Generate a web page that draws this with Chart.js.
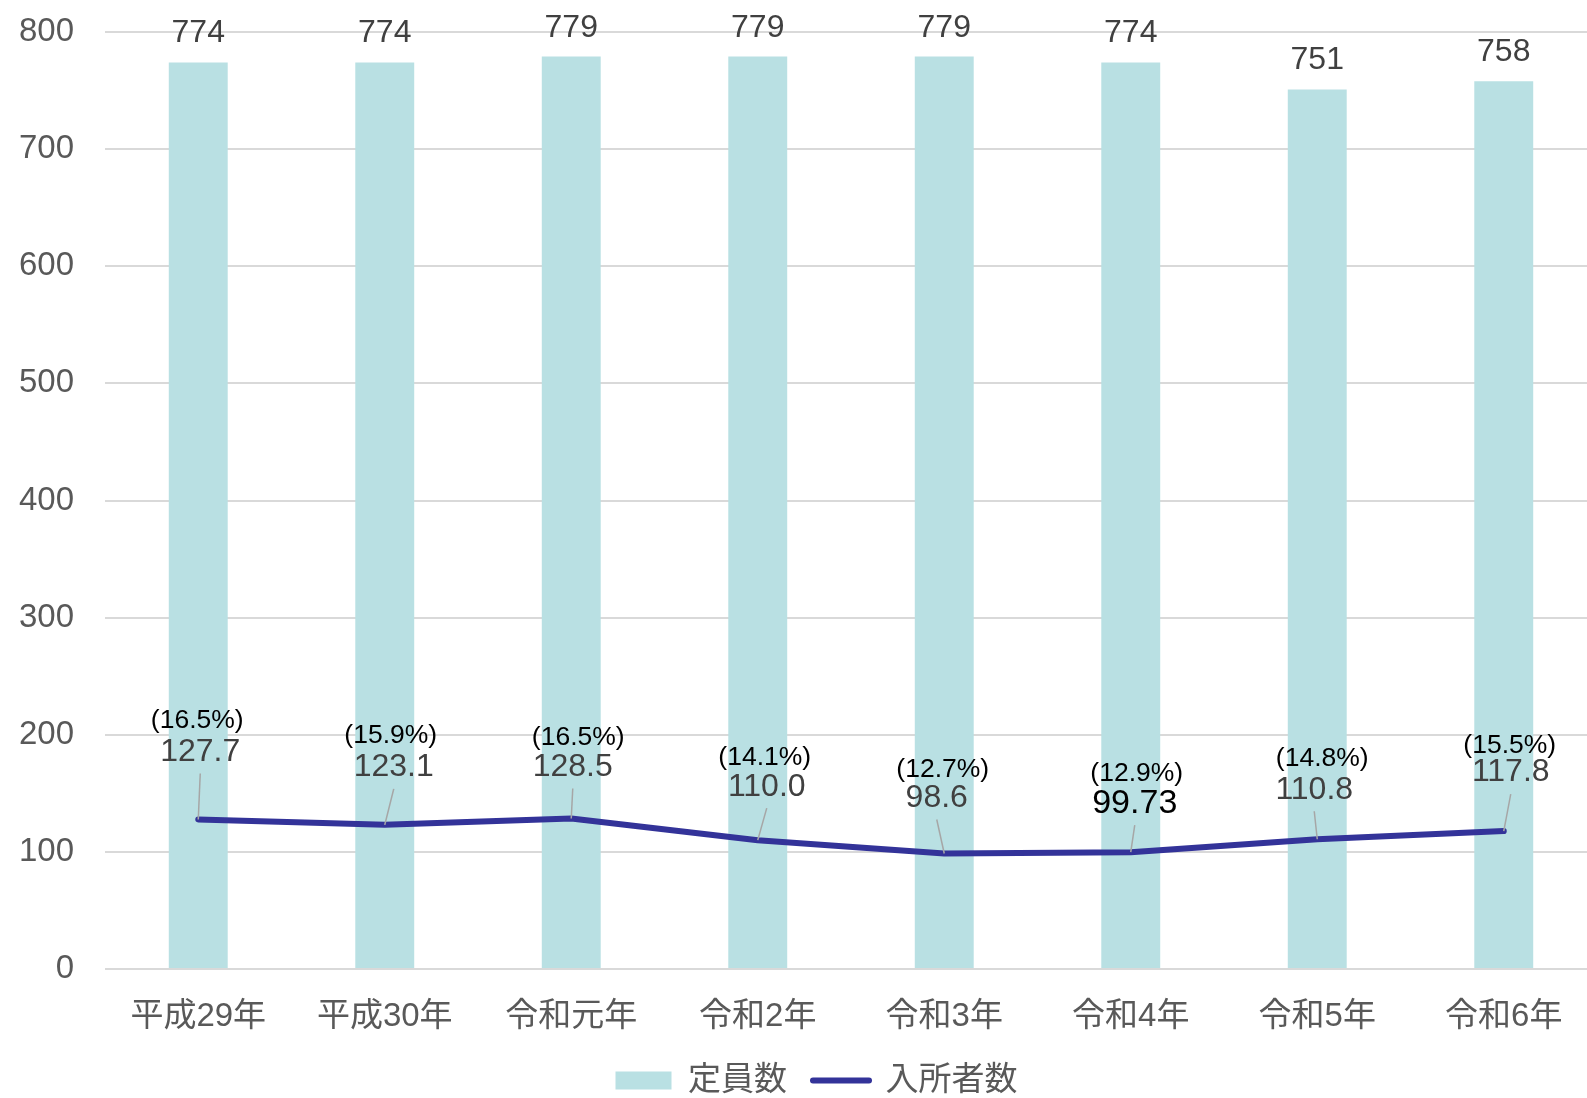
<!DOCTYPE html>
<html lang="ja">
<head>
<meta charset="utf-8">
<title>定員数と入所者数</title>
<script src="https://cdn.jsdelivr.net/npm/chart.js@4/dist/chart.umd.min.js"></script>
<style>
  html, body { margin: 0; padding: 0; background: #fff; overflow: hidden; }
  #wrap { width: 1597px; height: 1107px; }
</style>
</head>
<body>
<div id="wrap"><canvas id="chart" width="1597" height="1107"></canvas></div>
<script>
// chart values
const years = ["平成29年", "平成30年", "令和元年", "令和2年", "令和3年", "令和4年", "令和5年", "令和6年"];
const capacity = [774, 774, 779, 779, 779, 774, 751, 758];
const admitted = [127.7, 123.1, 128.5, 110.0, 98.6, 99.73, 110.8, 117.8];
const admittedText = ["127.7", "123.1", "128.5", "110.0", "98.6", "99.73", "110.8", "117.8"];
const shareText = ["(16.5%)", "(15.9%)", "(16.5%)", "(14.1%)", "(12.7%)", "(12.9%)", "(14.8%)", "(15.5%)"];
const yMin = 0, yMax = 800, yStep = 100;

// styling
const FONT = '"Liberation Sans", "Noto Sans CJK JP", Arial, sans-serif';
const barColor = "#b9e0e3";
const lineColor = "#333399";
const gridColor = "#d9d9d9";
const axisText = "#595959";

// label nudges relative to each line point (px), like the hand-moved labels in the original
const numOffset = [[2, -70], [9, -60], [1.5, -54], [9, -56], [-7.5, -58], [4, -51], [-3, -52], [7, -61]];
const pctOffset = [[-1, -101], [6, -91], [7, -83], [7, -85], [-1.5, -86], [6, -81], [5, -83], [6, -88]];

const labelPlugin = {
  id: "labels",
  afterLayout(chart) {
    // legend in the original sits a bit right of the canvas centre
    if (chart.legend) chart.legend.left += 36;
  },
  afterDatasetsDraw(chart) {
    const ctx = chart.ctx;
    ctx.save();
    ctx.textAlign = "center";
    ctx.textBaseline = "alphabetic";

    // bar value labels
    const bars = chart.getDatasetMeta(0).data;
    ctx.font = "32px " + FONT;
    ctx.fillStyle = "#404040";
    bars.forEach((b, i) => {
      ctx.fillText(String(capacity[i]), b.x, b.y - 20);
    });

    // line labels with leader lines
    const pts = chart.getDatasetMeta(1).data;
    pts.forEach((p, i) => {
      const nx = p.x + numOffset[i][0], ny = p.y + numOffset[i][1];
      const px = p.x + pctOffset[i][0], py = p.y + pctOffset[i][1];

      ctx.strokeStyle = "#a6a6a6";
      ctx.lineWidth = 1.5;
      ctx.beginPath();
      ctx.moveTo(nx, ny + 24);
      ctx.lineTo(p.x, p.y);
      ctx.stroke();

      const big = i === 5;
      const fs = big ? 34 : 32;
      ctx.font = fs + "px " + FONT;
      ctx.fillStyle = big ? "#000000" : "#404040";
      ctx.fillText(admittedText[i], nx, ny + fs * 0.358);

      ctx.font = "26.5px " + FONT;
      ctx.fillStyle = "#000000";
      ctx.fillText(shareText[i], px, py + 26.5 * 0.358);
    });
    ctx.restore();
  }
};

const ctx = document.getElementById("chart").getContext("2d");
new Chart(ctx, {
  data: {
    labels: years,
    datasets: [
      {
        type: "bar",
        label: "定員数",
        data: capacity,
        backgroundColor: barColor,
        borderWidth: 0,
        barPercentage: 0.316,
        categoryPercentage: 1.0,
        order: 1
      },
      {
        type: "line",
        label: "入所者数",
        data: admitted,
        borderColor: lineColor,
        backgroundColor: lineColor,
        borderWidth: 6,
        borderCapStyle: "round",
        borderJoinStyle: "round",
        pointRadius: 0,
        tension: 0,
        order: 0
      }
    ]
  },
  options: {
    responsive: false,
    animation: false,
    devicePixelRatio: 1,
    layout: { padding: { top: 32, left: 0, right: 0, bottom: 0 } },
    plugins: {
      tooltip: { enabled: false },
      legend: {
        position: "bottom",
        labels: {
          usePointStyle: true,
          pointStyleWidth: 56,
          boxHeight: 18,
          padding: 26,
          color: axisText,
          font: { family: FONT, size: 33 },
          generateLabels: () => [
            { text: "定員数", fillStyle: barColor, strokeStyle: barColor, lineWidth: 0, pointStyle: "rect", datasetIndex: 0, fontColor: axisText },
            { text: "入所者数", fillStyle: lineColor, strokeStyle: lineColor, lineWidth: 6, lineCap: "round", pointStyle: "line", datasetIndex: 1, fontColor: axisText }
          ]
        }
      }
    },
    scales: {
      x: {
        offset: true,
        grid: { display: false, drawTicks: false },
        border: { display: false },
        ticks: { color: axisText, font: { family: FONT, size: 33 }, padding: 28, maxRotation: 0 },
        afterFit: s => { s.height = 69; s.paddingLeft = 0; s.paddingRight = 0; }
      },
      y: {
        min: yMin,
        max: yMax,
        grid: { color: gridColor, lineWidth: 2, drawTicks: false },
        border: { display: false },
        ticks: { stepSize: yStep, color: axisText, font: { family: FONT, size: 33 }, padding: 31 },
        afterFit: s => { s.width = 105; s.paddingTop = 0; s.paddingBottom = 0; }
      }
    }
  },
  plugins: [labelPlugin]
});
</script>
</body>
</html>
